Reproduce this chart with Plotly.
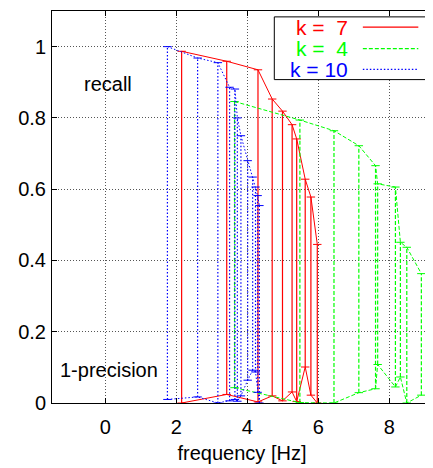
import plotly.graph_objects as go

# ---- data ----
k7_freq   = [2.15, 3.42, 4.30, 4.70, 4.99, 5.26, 5.39, 5.63, 5.79, 5.97]
k7_recall = [0.987, 0.959, 0.935, 0.853, 0.819, 0.781, 0.741, 0.628, 0.578, 0.445]
k7_fp     = [0.0, 0.024, 0.003, 0.020, 0.006, 0.031, 0.004, 0.101, 0.022, 0.0]

k4_freq   = [3.64, 5.48, 6.44, 7.14, 7.61, 7.67, 8.17, 8.31, 8.49, 8.90]
k4_recall = [0.846, 0.794, 0.764, 0.722, 0.666, 0.615, 0.606, 0.451, 0.437, 0.363]
k4_fp     = [0.043, 0.001, 0.0, 0.029, 0.040, 0.108, 0.045, 0.073, 0.0, 0.022]

k10_freq   = [1.75, 2.60, 3.17, 3.50, 3.65, 3.72, 3.82, 4.01, 4.15, 4.23, 4.29, 4.34]
k10_recall = [1.0, 0.968, 0.955, 0.886, 0.881, 0.80, 0.75, 0.68, 0.634, 0.606, 0.582, 0.554]
k10_fp     = [0.01, 0.017, 0.0, 0.006, 0.01, 0.005, 0.02, 0.064, 0.092, 0.087, 0.03, 0.0]

series = [
    ("k =\u00a0\u00a07", k7_freq, k7_recall, k7_fp, "#ff0000", "solid"),
    ("k =\u00a0\u00a04", k4_freq, k4_recall, k4_fp, "#00ff00", "4px,2px"),
    ("k = 10", k10_freq, k10_recall, k10_fp, "#0000ff", "1.5px,2px"),
]

x_ticks = [0, 2, 4, 6, 8]
y_ticks = [0, 0.2, 0.4, 0.6, 0.8, 1]

FONT = "Liberation Sans, Arial, Helvetica, sans-serif"

fig = go.Figure()

for name, xs, rc, fp, col, dash in series:
    vx, vy = [], []
    for x, r, f in zip(xs, rc, fp):
        vx += [x, x, None]
        vy += [f, r, None]
    fig.add_trace(go.Scatter(x=vx, y=vy, mode="lines", line=dict(color=col, width=1.2, dash=dash),
                             hoverinfo="skip", showlegend=False))
    for ys in (rc, fp):
        fig.add_trace(go.Scatter(x=xs, y=ys, mode="lines+markers", name=name, showlegend=False,
                                 line=dict(color=col, width=1, dash=dash),
                                 marker=dict(symbol="line-ew", size=6,
                                             line=dict(color=col, width=1))))

# manual gnuplot-style legend (text right-aligned, sample to the right)
leg_rows = [0.959, 0.904, 0.851]
fig.add_shape(type="rect", xref="x domain", yref="y domain", x0=0.585, x1=0.999, y0=0.825, y1=0.985,
              line=dict(color="black", width=1), fillcolor="white", layer="above")
for (name, xs, rc, fp, col, dash), yy in zip(series, leg_rows):
    fig.add_annotation(xref="x domain", yref="y domain", x=0.784, y=yy, text=name, showarrow=False,
                       xanchor="right", yanchor="middle", font=dict(family=FONT, size=21, color=col))
    fig.add_shape(type="line", xref="x domain", yref="y domain", x0=0.818, x1=0.964, y0=yy, y1=yy,
                  line=dict(color=col, width=1.2, dash=dash), layer="above")

fig.add_annotation(x=0.08, y=0.894, text="recall", showarrow=False,
                   font=dict(family=FONT, size=20, color="black"))
fig.add_annotation(x=0.11, y=0.094, text="1-precision", showarrow=False,
                   font=dict(family=FONT, size=20, color="black"))

axis_common = dict(showline=True, linecolor="black", linewidth=1, mirror="ticks",
                   ticks="inside", ticklen=5, tickcolor="black", automargin=False,
                   showgrid=True, gridcolor="#555555", griddash="1px,2px", gridwidth=1,
                   zeroline=False, tickfont=dict(family=FONT, size=20, color="black"))

fig.update_xaxes(range=[-1.5, 9.2], tickvals=x_ticks, ticktext=[str(v) for v in x_ticks],
                 title=dict(text="frequency [Hz]", font=dict(family=FONT, size=20, color="black"), standoff=8),
                 ticklabelstandoff=6, **axis_common)
fig.update_yaxes(range=[0, 1.1], tickvals=y_ticks, ticktext=["0", "0.2", "0.4", "0.6", "0.8", "1"],
                 ticklabelstandoff=1, **axis_common)

# page body has an 8px margin, so the figure is sized to fit the 433x468 window
fig.update_layout(width=425, height=460, margin=dict(l=44, r=1, t=3, b=65),
                  plot_bgcolor="white", paper_bgcolor="white", showlegend=False,
                  font=dict(family=FONT))

fig.write_html("out.html")
